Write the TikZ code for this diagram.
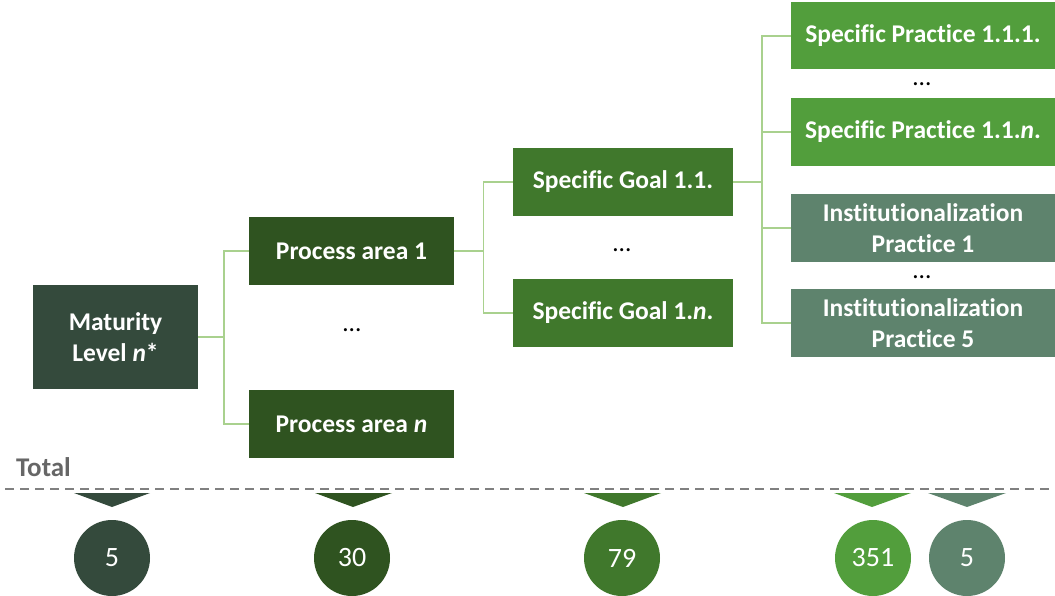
\documentclass[tikz,border=0pt]{standalone}
\usepackage{fontspec}
\setmainfont{Carlito}[Ligatures={NoCommon}]
\begin{document}
\definecolor{matcol}{HTML}{344A3C}
\definecolor{pacol}{HTML}{2F5320}
\definecolor{sgcol}{HTML}{40782C}
\definecolor{spcol}{HTML}{529E3C}
\definecolor{ipcol}{HTML}{5E836D}
\definecolor{linkcol}{HTML}{A9D18E}
\definecolor{totalgray}{HTML}{666666}
\definecolor{dashgray}{HTML}{808080}
\begin{tikzpicture}[x=1pt,y=-1pt,
  box/.style={rectangle, inner sep=0pt, text=white, align=center,
    font=\fontsize{25.5}{31}\selectfont\bfseries},
  link/.style={draw=linkcol, line width=1.5pt},
  dots/.style={inner sep=0pt, font=\fontsize{25.5}{31}\selectfont},
  total/.style={circle, inner sep=0pt, minimum size=76pt, text=white,
    font=\fontsize{28}{32}\selectfont}]
\useasboundingbox (0,0) rectangle (1055,596);

% hierarchy boxes
\node[box, fill=matcol, minimum width=165pt, minimum height=104pt] (mat) at (115.5,337) {Maturity\\Level \textit{n}*};
\node[box, fill=pacol, minimum width=205pt, minimum height=68pt] (pa1) at (351.5,251) {Process area 1};
\node[box, fill=pacol, minimum width=205pt, minimum height=68pt] (pan) at (351.5,424) {Process area \textit{n}};
\node[box, fill=sgcol, minimum width=220pt, minimum height=68pt] (sg1) at (623,182) {Specific Goal 1.1.};
\node[box, fill=sgcol, minimum width=220pt, minimum height=68pt] (sgn) at (623,313) {Specific Goal 1.\textit{n}.};
\node[box, fill=spcol, minimum width=264pt, minimum height=67pt] (sp1) at (923,36) {Specific Practice 1.1.1.};
\node[box, fill=spcol, minimum width=264pt, minimum height=68pt] (spn) at (923,132) {Specific Practice 1.1.\textit{n}.};
\node[box, fill=ipcol, minimum width=264pt, minimum height=68pt] (ip1) at (923,228) {Institutionalization\\Practice 1};
\node[box, fill=ipcol, minimum width=264pt, minimum height=68pt] (ip5) at (923,323) {Institutionalization\\Practice 5};

% ellipses between siblings
\node[dots] (d1) at (352,330) {…};
\node[dots] (d2) at (622,250) {…};
\node[dots] (d3) at (922,84) {…};
\node[dots] (d4) at (922,277) {…};

% tree connectors
\coordinate (j1) at (224,337);
\coordinate (j2) at (483.5,251);
\coordinate (j3) at (762,182);
\draw[link] (mat.east) -- (j1) |- (pa1.west);
\draw[link] (j1) |- (pan.west);
\draw[link] (pa1.east) -- (j2) |- (sg1.west);
\draw[link] (j2) |- (sgn.west);
\draw[link] (sg1.east) -- (j3) |- (sp1.west);
\draw[link] (j3) |- (spn.west);
\draw[link] (j3) |- (ip1.west);
\draw[link] (j3) |- (ip5.west);

% totals
\node[anchor=base west, inner sep=0pt, text=totalgray, font=\fontsize{27}{30}\selectfont\bfseries] (tl) at (16,476) {Total};
\coordinate (dl) at (5,489);
\coordinate (dr) at (1055,489);
\draw[draw=dashgray, line width=2pt, dash pattern=on 9pt off 6pt] (dl) -- (dr);

\fill[matcol] (74,493) -- (150,493) -- (112,507) -- cycle;
\fill[pacol] (315,493) -- (392,493) -- (353,507) -- cycle;
\fill[sgcol] (584,493) -- (661,493) -- (623,507) -- cycle;
\fill[spcol] (834,493) -- (911,493) -- (872,507) -- cycle;
\fill[ipcol] (928,493) -- (1006,493) -- (967,507) -- cycle;

\node[total, fill=matcol] (t1) at (112,558) {5};
\node[total, fill=pacol] (t2) at (352,558) {30};
\node[total, fill=sgcol] (t3) at (622,558) {79};
\node[total, fill=spcol] (t4) at (873,558) {351};
\node[total, fill=ipcol] (t5) at (967,558) {5};
\end{tikzpicture}
\end{document}
